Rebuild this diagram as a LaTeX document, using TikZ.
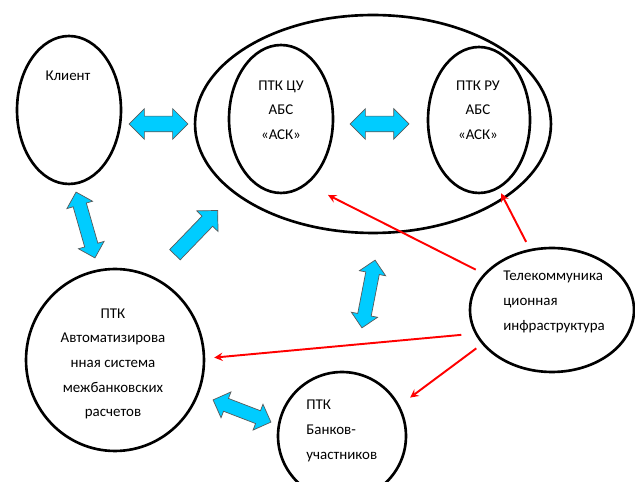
\documentclass[tikz,border=0pt]{standalone}
\usepackage{fontspec}
\setmainfont{Carlito}
\usetikzlibrary{shapes.geometric, shapes.arrows}
\definecolor{skyblue}{RGB}{0,204,255}

\begin{document}
\begin{tikzpicture}[x=0.02cm, y=-0.02cm,
	oval/.style={ellipse, draw, line width=1.5pt, inner sep=0pt},
	txt/.style={font=\fontsize{8.5}{14}\selectfont, inner sep=0pt},
	link/.style={->, >=stealth, draw=red, line width=1.1pt},
	dbl/.style={double arrow, draw=black!65, line width=0.4pt, fill=skyblue, inner xsep=0pt, inner ysep=0.15cm, double arrow head extend=0.15cm}]
	\useasboundingbox (0,0) rectangle (635,482);

	\node[oval, minimum width=2.08cm, minimum height=2.96cm](client) at (69,110) {};
	\node[oval, minimum width=7.12cm, minimum height=4.36cm](abs) at (373,124) {};
	\node[oval, minimum width=2.08cm, minimum height=2.96cm](cu) at (281,119) {};
	\node[oval, minimum width=2.04cm, minimum height=2.92cm](ru) at (479,120) {};
	\node[oval, minimum width=3.56cm, minimum height=3.64cm](ams) at (115,360) {};
	\node[oval, minimum width=2.56cm, minimum height=2.56cm](banks) at (342,436) {};
	\node[oval, minimum width=3.28cm, minimum height=2.48cm](tel) at (552,310) {};

	\node[txt](client-t) at (68,76) {Клиент};
	\node[txt, align=center](cu-t) at (281,110) {ПТК ЦУ\\АБС\\«АСК»};
	\node[txt, align=center](ru-t) at (478,110) {ПТК РУ\\АБС\\«АСК»};
	\node[txt, align=center](ams-t) at (113,364) {ПТК\\Автоматизирова\\нная система\\межбанковских\\расчетов};
	\node[txt, align=left, anchor=west](banks-t) at (306,431) {ПТК\\Банков-\\участников};
	\node[txt, align=left, anchor=west](tel-t) at (503,302) {Телекоммуника\\ционная\\инфраструктура};

	\node[dbl, minimum height=1.18cm](a1) at (158.5,124) {};
	\node[dbl, minimum height=1.18cm](a2) at (379.5,124) {};
	\node[dbl, minimum height=1.37cm, rotate=-74, inner ysep=0.13cm, double arrow head extend=0.13cm](a3) at (85.5,225) {};
	\node[dbl, minimum height=1.38cm, rotate=79, inner ysep=0.13cm, double arrow head extend=0.13cm](a5) at (368.5,294) {};
	\node[dbl, minimum height=1.24cm, rotate=-21, inner ysep=0.13cm, double arrow head extend=0.14cm](a6) at (242,411) {};
	\node[single arrow, draw=black!65, line width=0.4pt, fill=skyblue, inner xsep=0pt, inner ysep=0.14cm, single arrow head extend=0.15cm, minimum height=1.23cm, rotate=46](a4) at (193.75,235.25) {};

	\coordinate (cu-tip) at (328,195);
	\draw[link, shorten <=0.18cm](tel.152) -- (cu-tip);
	\draw[link, shorten <=0.16cm, shorten >=0.1cm](tel.110) -- (ru.-74);
	\draw[link, shorten <=0.27cm, shorten >=0.18cm](tel.197) -- (ams.1);
	\draw[link, shorten <=0.14cm, shorten >=0.26cm](tel.206) -- (banks.28);
\end{tikzpicture}
\end{document}
